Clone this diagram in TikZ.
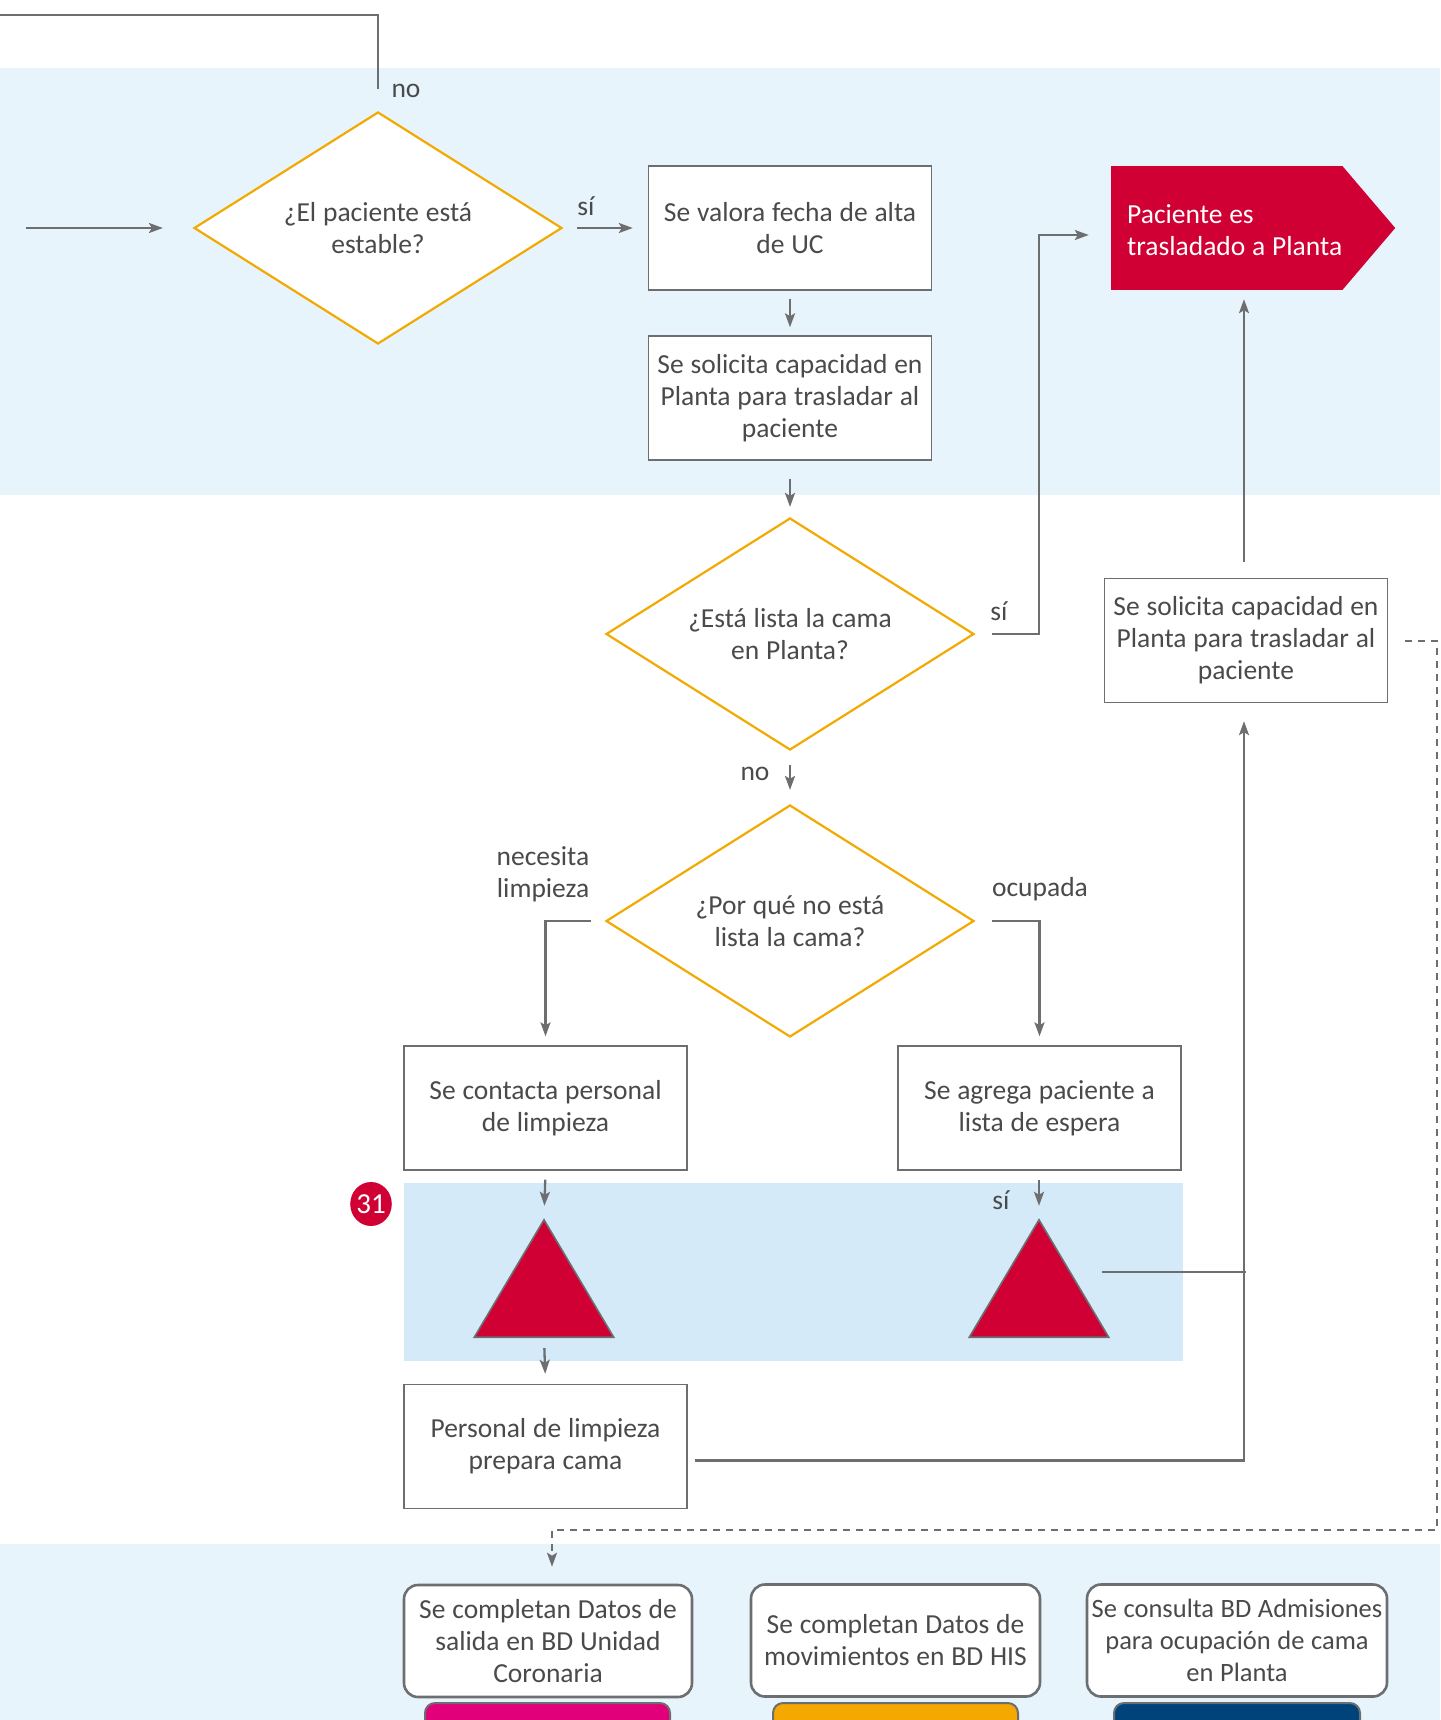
\documentclass[tikz,border=0pt]{standalone}
\usepackage{fontspec}
\setmainfont{Carlito}[WordSpace=1.1]
\usetikzlibrary{shapes.geometric,arrows.meta,calc}
\definecolor{linegray}{HTML}{6D6E70}
\definecolor{txtgray}{HTML}{4A4A4C}
\definecolor{decor}{HTML}{F2A900}
\definecolor{alarm}{HTML}{D10034}
\definecolor{bandblue}{HTML}{E8F4FB}
\definecolor{bandblue2}{HTML}{D4EAF8}
\definecolor{barpink}{HTML}{E2007A}
\definecolor{barorange}{HTML}{F4A800}
\definecolor{barnavy}{HTML}{00427A}
\begin{document}
\begin{tikzpicture}[x=1pt,y=-1pt,
  every node/.style={font=\fontsize{27.5}{32}\selectfont, text=txtgray},
  stepbox/.style={draw=linegray, line width=1.4pt, fill=white, minimum width=283pt,
    minimum height=124pt, align=flush center, text width=280pt, inner sep=0pt},
  decision/.style={diamond, draw=decor, line width=2.2pt, fill=white, shape aspect=1.586,
    minimum width=368pt, minimum height=232pt, inner sep=0pt, align=center},
  dbbox/.style={draw=linegray, line width=2.6pt, fill=white, rounded corners=14pt,
    minimum height=112pt, align=center, inner sep=0pt},
  bar/.style={draw=linegray, line width=2pt, rounded corners=10pt},
  lbl/.style={inner sep=0pt, align=center},
  link/.style={draw=linegray, line width=2.3pt},
  flow/.style={link, -{Stealth[length=14pt,width=10pt,inset=3pt]}},
  dashflow/.style={draw=linegray, line width=2pt, dash pattern=on 7pt off 6pt,
    -{Stealth[length=14pt,width=10pt,inset=3pt]}},
  tri/.style={minimum width=139pt, minimum height=117pt, inner sep=0pt}
]
\useasboundingbox (0,0) rectangle (1440,1720);

% background bands
\fill[bandblue] (0,68) rectangle (1440,495);
\fill[bandblue2] (404,1183) rectangle (1183,1361);
\fill[bandblue] (0,1544) rectangle (1440,1720);

% decisions and steps
\node[decision] (q1) at (378,228) {¿El paciente está\\estable?};
\node[stepbox] (b1) at (790,228) {Se valora fecha de alta\\de UC};
\node[stepbox] (b2) at (790,398) {Se solicita capacidad en\\Planta para trasladar al\\paciente};
\node[decision] (q2) at (790,634) {¿Está lista la cama\\en Planta?};
\node[decision] (q3) at (790,921) {¿Por qué no está\\lista la cama?};
\node[stepbox] (b3) at (545.5,1108) {Se contacta personal\\de limpieza};
\node[stepbox] (b4) at (1039.5,1108) {Se agrega paciente a\\lista de espera};
\node[stepbox] (b5) at (545.5,1446.5) {Personal de limpieza\\prepara cama};
\node[stepbox] (b6) at (1246,640.5) {Se solicita capacidad en\\Planta para trasladar al\\paciente};

% end point: patient moved to ward
\node[fill=alarm, minimum width=231pt, minimum height=124pt, inner sep=0pt] (dest) at (1226.5,228) {};
\fill[alarm] (dest.north east) -- ([xshift=53pt]dest.east) -- (dest.south east) -- cycle;
\node[anchor=west, align=left, inner sep=0pt, text=white] (desttext) at (1127,230)
  {Paciente es\\trasladado a Planta};

% waiting points
\node[tri] (t1) at (544,1278.5) {};
\node[tri] (t2) at (1039,1278.5) {};
\filldraw[fill=alarm, draw=linegray, line width=1.6pt, line join=miter]
  (t1.south west) -- (t1.north) -- (t1.south east) -- cycle;
\filldraw[fill=alarm, draw=linegray, line width=1.6pt, line join=miter]
  (t2.south west) -- (t2.north) -- (t2.south east) -- cycle;

\node[ellipse, fill=alarm, minimum width=41pt, minimum height=44pt, inner sep=0pt,
  text=white, font=\fontsize{29}{32}\selectfont] (n31) at (371,1204) {31};

% data records
\node[dbbox, minimum width=288pt] (d1) at (548,1641)
  {Se completan Datos de\\salida en BD Unidad\\Coronaria};
\node[dbbox, minimum width=289pt] (d2) at (895.5,1640.5)
  {Se completan Datos de\\movimientos en BD HIS};
\node[dbbox, minimum width=300pt, font=\fontsize{26.5}{32}\selectfont] (d3) at (1237,1640.5)
  {Se consulta BD Admisiones\\para ocupación de cama\\en Planta};
\begin{scope}
\clip (0,0) rectangle (1440,1720);
\filldraw[bar, fill=barpink] (425,1703) rectangle (670,1745);
\filldraw[bar, fill=barorange] (773,1703) rectangle (1018,1745);
\filldraw[bar, fill=barnavy] (1114,1703) rectangle (1360,1745);
\end{scope}

% free ends
\coordinate (loopin) at (0,15);
\coordinate (loopend) at (378,89);
\coordinate (start) at (26,228);
\coordinate (j1) at (1039,634);
\coordinate (t2out) at (1102,1272);
\coordinate (dA) at (1437,640.5);
\coordinate (dB) at (1437,1530);
\coordinate (dC) at (552,1530);

% connectors
\draw[link] (loopin) -| (loopend);
\draw[flow, shorten >=30pt] (start) -- (q1.west);
\draw[flow, shorten <=14pt, shorten >=15pt] (q1.east) -- (b1.west);
\draw[flow, shorten <=8pt, shorten >=8pt] (b1.south) -- (b2.north);
\draw[flow, shorten <=18pt, shorten >=10pt] (b2.south) -- (q2.north);
\draw[flow, shorten <=17pt, shorten >=22pt] (q2.east) -- (j1) |- ([yshift=-7pt]dest.west);
\draw[flow, shorten <=14pt, shorten >=14pt] (q2.south) -- (q3.north);
\draw[flow, shorten <=14pt, shorten >=9pt] (q3.west) -| (b3.north);
\draw[flow, shorten <=17pt, shorten >=9pt] (q3.east) -| (b4.north);
\draw[flow, shorten <=9pt, shorten >=14pt] (b3.south) -- (t1.north);
\draw[flow, shorten <=9pt, shorten >=14pt] (b4.south -| t2.north) -- (t2.north);
\draw[flow, shorten <=11pt, shorten >=10pt] (t1.south) -- (b5.north);
\draw[link] (t2out) -- (t2out -| b6.south);
\draw[flow, shorten <=7pt, shorten >=18pt] ([yshift=-14pt]b5.east) -| ([xshift=-2pt]b6.south);
\draw[flow, shorten <=16pt, shorten >=9pt] ([xshift=-2pt]b6.north) -- ([xshift=-2pt]b6.north |- dest.south);
\draw[dashflow, shorten <=17pt, shorten >=17pt] (b6.east) -- (dA) -- (dB) -- (dC) -- (dC |- d1.north);

% branch labels
\node[lbl] (lno1) at (406,91) {no};
\node[lbl] (lsi1) at (586,206) {sí};
\node[lbl] (lsi2) at (999,611) {sí};
\node[lbl] (lno2) at (755,774) {no};
\node[lbl, align=right] (lclean) at (543,874) {necesita\\limpieza};
\node[lbl] (lbusy) at (1040,889) {ocupada};
\node[lbl] (lsi3) at (1001,1200) {sí};
\end{tikzpicture}
\end{document}
